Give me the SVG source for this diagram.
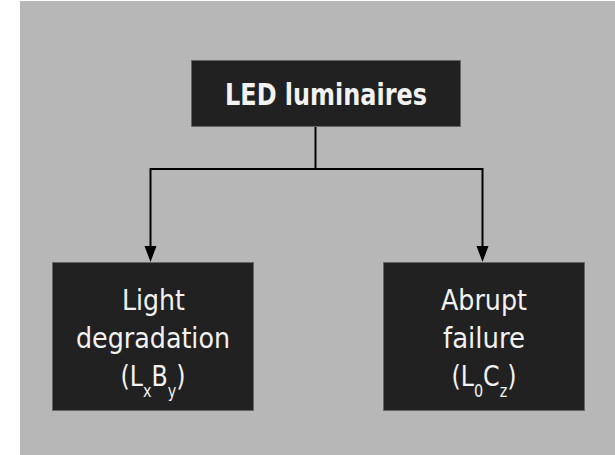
<svg xmlns="http://www.w3.org/2000/svg" width="615" height="455" viewBox="0 0 615 455">
<defs>
<style>
.node rect{fill:#212121;stroke:#666;stroke-width:1}
.t{font-family:"DejaVu Sans Condensed","DejaVu Sans",sans-serif;fill:#f2f2f2;text-anchor:middle}
.top{font-size:30px;font-weight:bold}
.lbl{font-size:28px}
.sub{font-size:17px}
.conn{fill:none;stroke:#000;stroke-width:2}
</style>
</defs>
<rect x="0" y="0" width="615" height="455" fill="#fff"/>
<rect x="20" y="1" width="595" height="454" fill="#b7b7b7"/>
<g id="connectors">
<path class="conn" d="M315.5,127 V169"/>
<path class="conn" d="M150.5,169 H482.5"/>
<path class="conn" d="M150.5,168 V247"/>
<path class="conn" d="M482.5,168 V247"/>
<path d="M144.5,246 L156.5,246 L150.5,262 Z" fill="#000"/>
<path d="M476.5,246 L488.5,246 L482.5,262 Z" fill="#000"/>
</g>
<g id="node-led" class="node">
<rect x="191.5" y="60.5" width="269" height="66"/>
<text class="t top" x="326" y="105" textLength="202" lengthAdjust="spacingAndGlyphs">LED luminaires</text>
</g>
<g id="node-light" class="node">
<rect x="52.5" y="262.5" width="201" height="148"/>
<text class="t lbl" x="153.5" y="310" textLength="63" lengthAdjust="spacingAndGlyphs">Light</text>
<text class="t lbl" x="153" y="347.5" textLength="154" lengthAdjust="spacingAndGlyphs">degradation</text>
<text class="t lbl" x="153" y="386" textLength="65" lengthAdjust="spacingAndGlyphs">(L<tspan class="sub" dy="11">x</tspan><tspan dy="-11">B</tspan><tspan class="sub" dy="11">y</tspan><tspan dy="-11">)</tspan></text>
</g>
<g id="node-abrupt" class="node">
<rect x="383.5" y="262.5" width="201" height="148"/>
<text class="t lbl" x="484" y="310" textLength="86" lengthAdjust="spacingAndGlyphs">Abrupt</text>
<text class="t lbl" x="484" y="347.5" textLength="82" lengthAdjust="spacingAndGlyphs">failure</text>
<text class="t lbl" x="484" y="386" textLength="65" lengthAdjust="spacingAndGlyphs">(L<tspan class="sub" dy="11">0</tspan><tspan dy="-11">C</tspan><tspan class="sub" dy="11">z</tspan><tspan dy="-11">)</tspan></text>
</g>
</svg>
